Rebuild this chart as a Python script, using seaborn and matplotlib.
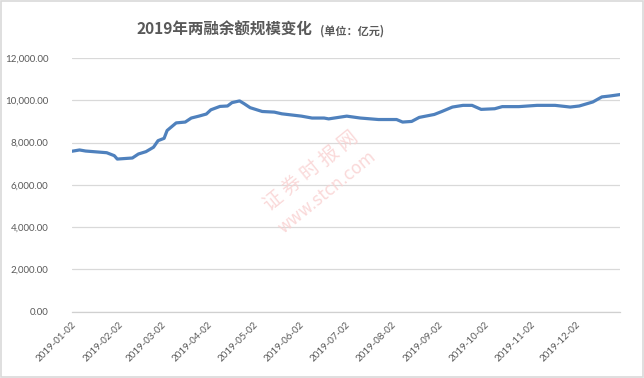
import matplotlib
matplotlib.use("Agg")
import matplotlib.pyplot as plt
import matplotlib.dates as mdates
from matplotlib.ticker import FuncFormatter
import seaborn as sns
import pandas as pd

# ---- data ----
dates = ["2019-01-02", "2019-01-07", "2019-01-11", "2019-01-25", "2019-01-30",
         "2019-02-01", "2019-02-11", "2019-02-15", "2019-02-20", "2019-02-25",
         "2019-02-28", "2019-03-04", "2019-03-06", "2019-03-12", "2019-03-18",
         "2019-03-22", "2019-03-27", "2019-04-01", "2019-04-04", "2019-04-10",
         "2019-04-15", "2019-04-18", "2019-04-23", "2019-04-26", "2019-04-30",
         "2019-05-08", "2019-05-16", "2019-05-21", "2019-06-03", "2019-06-10",
         "2019-06-18", "2019-06-21", "2019-07-03", "2019-07-12", "2019-07-24",
         "2019-08-05", "2019-08-09", "2019-08-15", "2019-08-20", "2019-08-30",
         "2019-09-04", "2019-09-11", "2019-09-18", "2019-09-24", "2019-09-30",
         "2019-10-09", "2019-10-14", "2019-10-25", "2019-11-06", "2019-11-18",
         "2019-11-28", "2019-12-04", "2019-12-13", "2019-12-19", "2019-12-24",
         "2019-12-31"]
balance = [7590, 7650, 7600, 7520, 7380,
           7220, 7270, 7460, 7570, 7780,
           8090, 8200, 8570, 8930, 8970,
           9160, 9250, 9350, 9550, 9710,
           9730, 9890, 9970, 9840, 9650,
           9470, 9440, 9360, 9250, 9160,
           9160, 9120, 9250, 9160, 9090,
           9090, 8970, 9000, 9190, 9330,
           9470, 9680, 9760, 9760, 9570,
           9600, 9700, 9700, 9760, 9760,
           9680, 9730, 9920, 10160, 10200,
           10270]
tick_dates = ["2019-01-02", "2019-02-02", "2019-03-02", "2019-04-02", "2019-05-02",
              "2019-06-02", "2019-07-02", "2019-08-02", "2019-09-02", "2019-10-02",
              "2019-11-02", "2019-12-02"]
y_ticks = [0, 2000, 4000, 6000, 8000, 10000, 12000]
title = "2019年两融余额规模变化"
unit = "(单位：亿元)"

df = pd.DataFrame({"date": pd.to_datetime(dates), "balance": balance})

sns.set_style("white")
plt.rcParams["font.family"] = ["Noto Sans CJK SC", "DejaVu Sans"]

fig = plt.figure(figsize=(6.44, 3.78), dpi=100)
ax = fig.add_axes([72 / 644, 1 - 311.7 / 378, (620 - 72) / 644, (311.7 - 58) / 378])

sns.lineplot(data=df, x="date", y="balance", ax=ax, color="#4f81bd", linewidth=2.3)

ax.set_xlim(pd.Timestamp("2019-01-02"), pd.Timestamp("2019-12-31"))
ax.set_ylim(0, 12000)
ax.set_yticks(y_ticks)
ax.yaxis.set_major_formatter(FuncFormatter(lambda v, p: f"{v:,.2f}"))
ax.set_xticks(pd.to_datetime(tick_dates))
ax.xaxis.set_major_formatter(mdates.DateFormatter("%Y-%m-%d"))
ax.set_xlabel("")
ax.set_ylabel("")

ax.grid(axis="y", color="#d9d9d9", linewidth=0.9)
ax.set_axisbelow(True)
for s in ["top", "right", "left"]:
    ax.spines[s].set_visible(False)
ax.spines["bottom"].set_color("#d0d0d0")
ax.spines["bottom"].set_linewidth(0.9)

ax.tick_params(axis="y", length=0, pad=17, labelsize=7, labelcolor="#595959")
ax.tick_params(axis="x", length=4, width=0.8, color="#d0d0d0", direction="out",
               pad=2, labelsize=7, labelcolor="#595959")
for lab in ax.get_xticklabels():
    lab.set_fontfamily(["Lato", "DejaVu Sans"])
    lab.set_rotation(45)
    lab.set_ha("right")
    lab.set_va("top")
    lab.set_rotation_mode("anchor")
for lab in ax.get_yticklabels():
    lab.set_fontfamily(["Lato", "DejaVu Sans"])

# title
fig.text(312 / 644, 1 - 30 / 378, title, ha="right", va="center", fontsize=11.2,
         fontweight="bold", color="#595959")
fig.text(320 / 644, 1 - 31 / 378, unit, ha="left", va="center", fontsize=8,
         fontweight="bold", color="#595959")

# watermark
fig.text(311 / 644, 1 - 171 / 378, "证 券 时 报 网", ha="center", va="center",
         fontsize=14, color="#f9d0d0", rotation=39, alpha=0.8)
fig.text(327 / 644, 1 - 192 / 378, "www.stcn.com", ha="center", va="center",
         fontsize=12, color="#f9d0d0", rotation=39, alpha=0.8,
         family=["DejaVu Sans"])

# outer border
fig.patches.append(plt.Rectangle((0.001, 0.002), 0.997, 0.996, transform=fig.transFigure,
                                 fill=False, edgecolor="#d9d9d9", linewidth=1.2))

fig.savefig("out.png", dpi=100)
